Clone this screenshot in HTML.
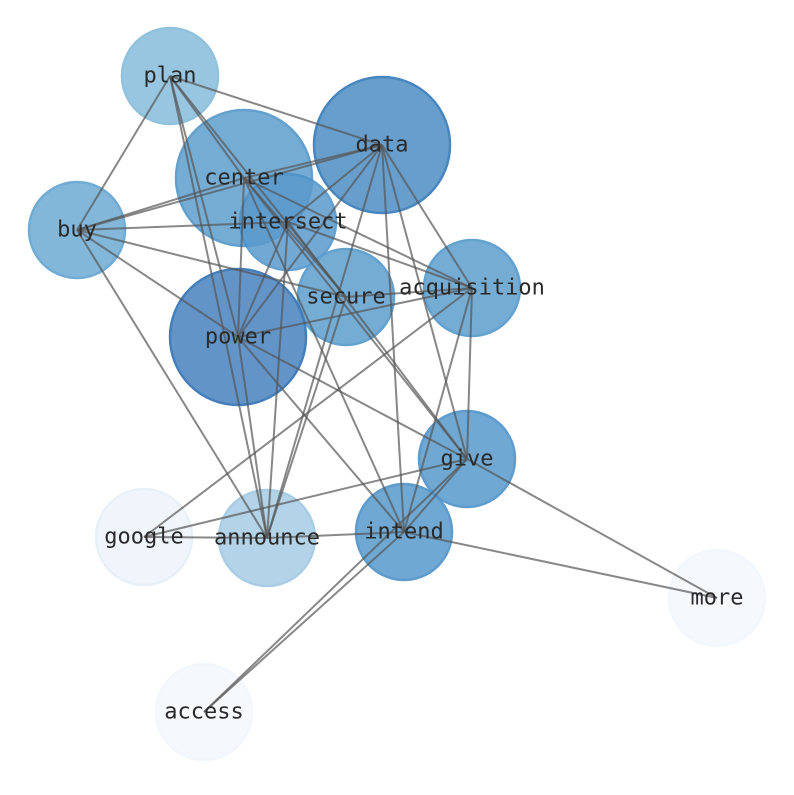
<!DOCTYPE html>
<html><head><meta charset="utf-8"><style>html,body{margin:0;padding:0;background:#fff}</style></head>
<body>
<svg width="794" height="790" viewBox="0 0 794 790" xmlns="http://www.w3.org/2000/svg">
<g stroke-width="2.5">
<circle cx="170" cy="76" r="48" fill="#93c4df" stroke="#8bbfdd" opacity="0.95"/>
<circle cx="382" cy="145" r="68" fill="#5f99ca" stroke="#3f80bd" opacity="0.95"/>
<circle cx="244" cy="178" r="68" fill="#6ea8d2" stroke="#5b9bcc" opacity="0.95"/>
<circle cx="288" cy="222" r="48" fill="#5a9acd" stroke="#4a90c8" opacity="0.85"/>
<circle cx="77" cy="230" r="48" fill="#7db4d8" stroke="#6aa8d3" opacity="0.95"/>
<circle cx="346" cy="297" r="48" fill="#6ea8d2" stroke="#5b9ccd" opacity="0.95"/>
<circle cx="472" cy="288" r="48" fill="#6ea8d2" stroke="#5b9ccd" opacity="0.95"/>
<circle cx="238" cy="337" r="68" fill="#5a8fc6" stroke="#3c79b8" opacity="0.95"/>
<circle cx="467" cy="459" r="48" fill="#68a4d1" stroke="#5597cb" opacity="0.95"/>
<circle cx="144" cy="537" r="48" fill="#eff5fb" stroke="#e8f0f8"/>
<circle cx="267" cy="538" r="48" fill="#b3d4e8" stroke="#a8cde5"/>
<circle cx="404" cy="532" r="48" fill="#68a4d1" stroke="#5597cb" opacity="0.95"/>
<circle cx="717" cy="598" r="48" fill="#f5f9fe" stroke="#f2f7fd"/>
<circle cx="204" cy="712" r="48" fill="#f5f9fe" stroke="#f2f7fd"/>
</g>
<g stroke="#555" stroke-opacity="0.7" stroke-width="2" fill="none">
<line x1="170" y1="76" x2="382" y2="145"/>
<line x1="170" y1="76" x2="77" y2="230"/>
<line x1="170" y1="76" x2="267" y2="538"/>
<line x1="170" y1="76" x2="238" y2="337"/>
<line x1="170" y1="76" x2="346" y2="297"/>
<line x1="170" y1="76" x2="244" y2="178"/>
<line x1="382" y1="145" x2="244" y2="178"/>
<line x1="382" y1="145" x2="77" y2="230"/>
<line x1="382" y1="145" x2="238" y2="337"/>
<line x1="382" y1="145" x2="288" y2="222"/>
<line x1="382" y1="145" x2="267" y2="538"/>
<line x1="382" y1="145" x2="472" y2="288"/>
<line x1="382" y1="145" x2="467" y2="459"/>
<line x1="382" y1="145" x2="404" y2="532"/>
<line x1="244" y1="178" x2="77" y2="230"/>
<line x1="244" y1="178" x2="238" y2="337"/>
<line x1="244" y1="178" x2="472" y2="288"/>
<line x1="244" y1="178" x2="467" y2="459"/>
<line x1="244" y1="178" x2="404" y2="532"/>
<line x1="244" y1="178" x2="346" y2="297"/>
<line x1="288" y1="222" x2="77" y2="230"/>
<line x1="288" y1="222" x2="238" y2="337"/>
<line x1="288" y1="222" x2="472" y2="288"/>
<line x1="288" y1="222" x2="267" y2="538"/>
<line x1="288" y1="222" x2="467" y2="459"/>
<line x1="77" y1="230" x2="346" y2="297"/>
<line x1="77" y1="230" x2="238" y2="337"/>
<line x1="77" y1="230" x2="267" y2="538"/>
<line x1="238" y1="337" x2="472" y2="288"/>
<line x1="238" y1="337" x2="467" y2="459"/>
<line x1="238" y1="337" x2="404" y2="532"/>
<line x1="238" y1="337" x2="267" y2="538"/>
<line x1="346" y1="297" x2="472" y2="288"/>
<line x1="346" y1="297" x2="267" y2="538"/>
<line x1="472" y1="288" x2="144" y2="537"/>
<line x1="472" y1="288" x2="404" y2="532"/>
<line x1="472" y1="288" x2="467" y2="459"/>
<line x1="467" y1="459" x2="144" y2="537"/>
<line x1="467" y1="459" x2="717" y2="598"/>
<line x1="467" y1="459" x2="204" y2="712"/>
<line x1="467" y1="459" x2="404" y2="532"/>
<line x1="404" y1="532" x2="267" y2="538"/>
<line x1="404" y1="532" x2="717" y2="598"/>
<line x1="404" y1="532" x2="204" y2="712"/>
<line x1="144" y1="537" x2="267" y2="538"/>
</g>
<g font-family="'DejaVu Sans Mono', 'Liberation Mono', monospace" font-size="22" fill="#2a2a2a" text-anchor="middle" dominant-baseline="central">
<text x="170" y="76">plan</text>
<text x="382" y="145">data</text>
<text x="244" y="178">center</text>
<text x="288" y="222">intersect</text>
<text x="77" y="230">buy</text>
<text x="346" y="297">secure</text>
<text x="472" y="288">acquisition</text>
<text x="238" y="337">power</text>
<text x="467" y="459">give</text>
<text x="144" y="537">google</text>
<text x="267" y="538">announce</text>
<text x="404" y="532">intend</text>
<text x="717" y="598">more</text>
<text x="204" y="712">access</text>
</g>
</svg>
</body></html>
